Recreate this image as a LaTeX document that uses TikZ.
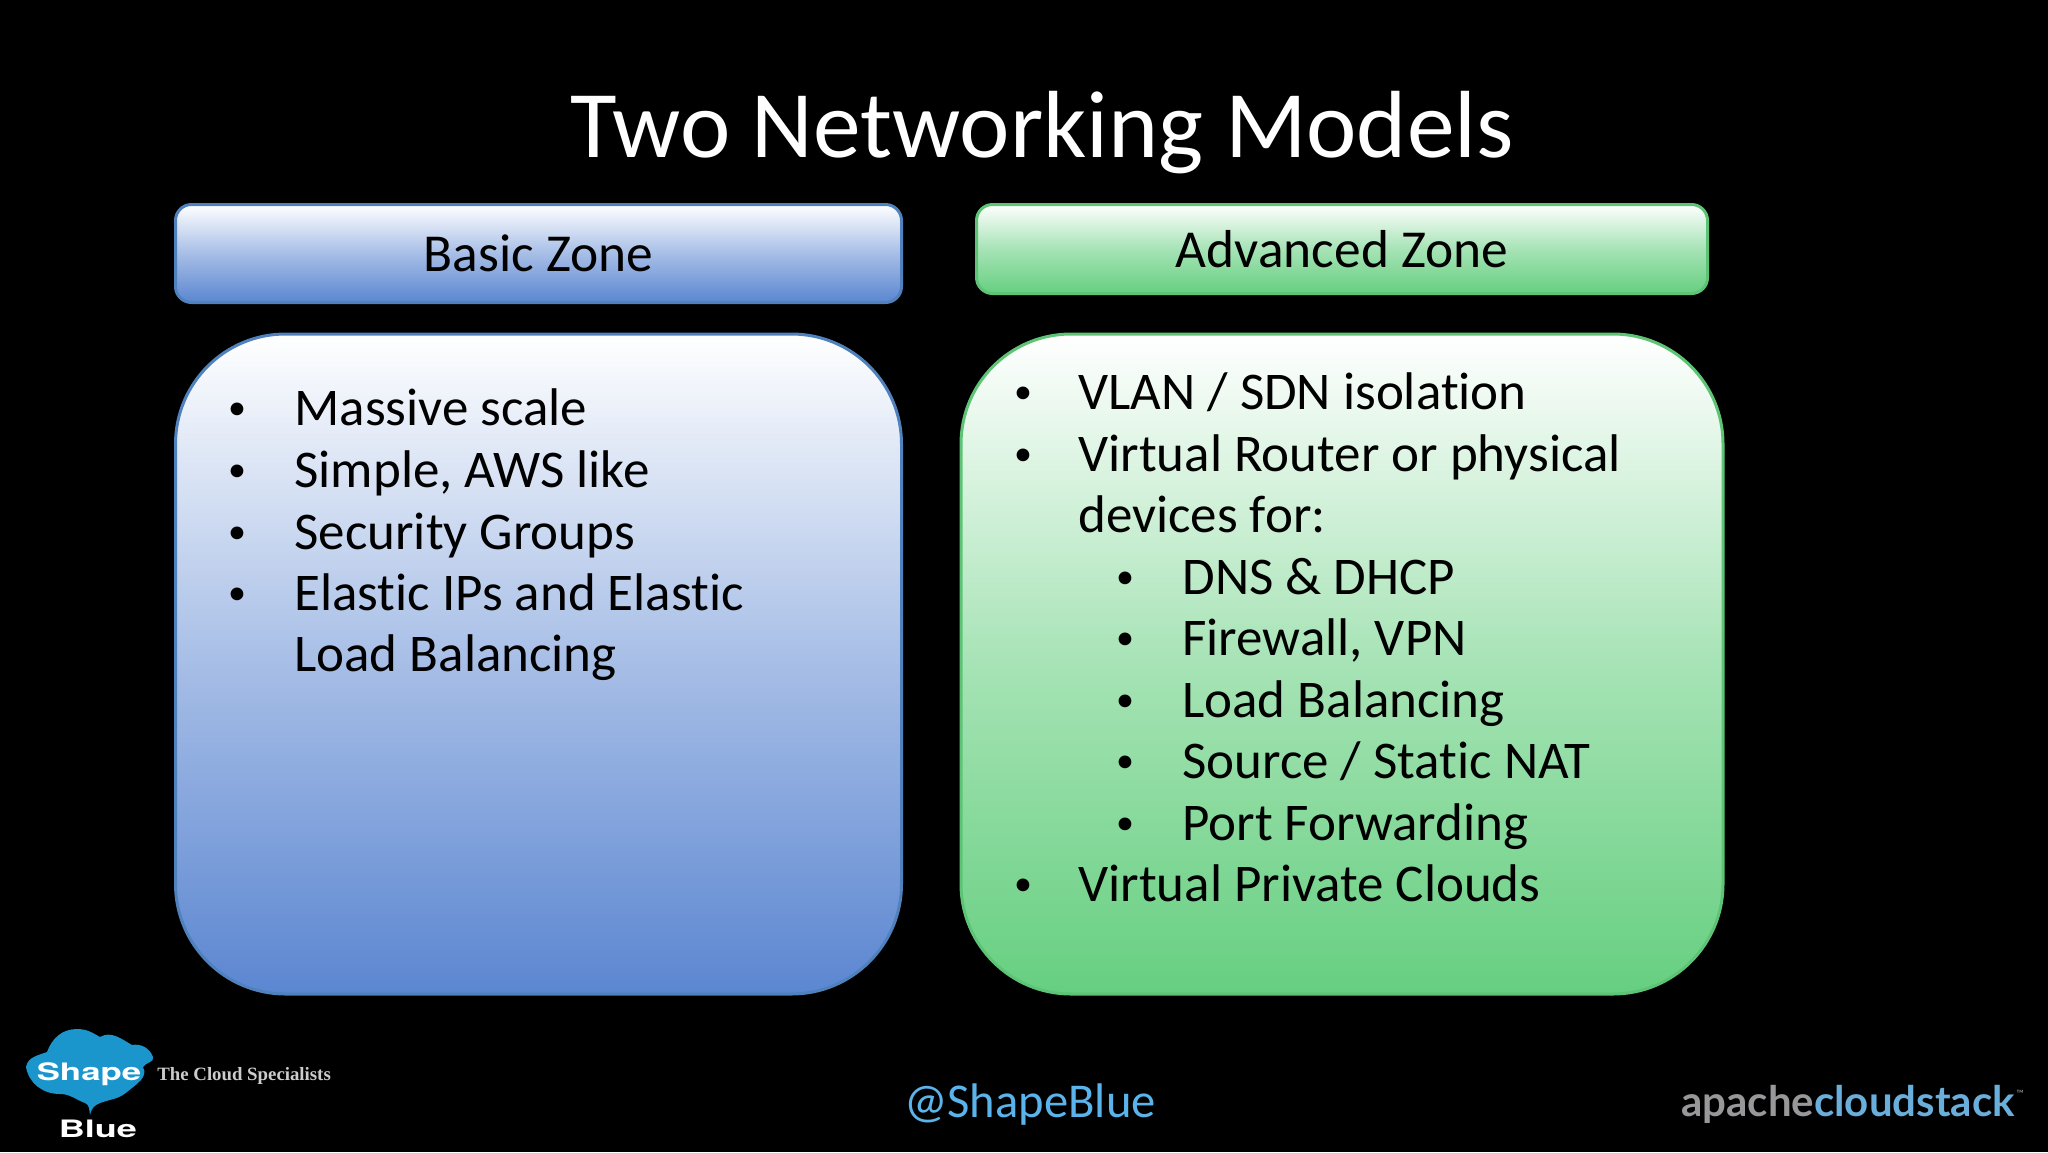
\documentclass[tikz,border=0pt]{standalone}
\usepackage{fontspec}
\setmainfont{Carlito}[Ligatures=NoCommon]
\newfontfamily\logosans{TeX Gyre Heros}
\newfontfamily\logoserif{Liberation Serif}
\newfontfamily\stackfont{Lato}
\definecolor{basicblue}{HTML}{5B86D1}
\definecolor{basicline}{HTML}{4F81BD}
\definecolor{advgreen}{HTML}{66CF80}
\definecolor{advline}{HTML}{5CC474}
\definecolor{cloudblue}{HTML}{1A96CC}
\definecolor{handleblue}{HTML}{5AB3EA}
\definecolor{stackgrey}{HTML}{98989A}
\definecolor{stackblue}{HTML}{6AAEDB}
\tikzset{
    basiczone/.style={draw=basicline,line width=1.5pt,top color=white,bottom color=basicblue,middle color=basicblue!54!white,inner sep=0pt,outer sep=0pt},
    advzone/.style={draw=advline,line width=1.5pt,top color=white,bottom color=advgreen,middle color=advgreen!58!white,inner sep=0pt,outer sep=0pt},
    zonehead/.style={rounded corners=8pt,text height=18pt,text depth=0pt,font=\fontsize{26.7}{30}\selectfont},
    zonebody/.style={rounded corners=55pt},
    listtext/.style={anchor=base west,inner sep=0pt,font=\fontsize{26.5}{30}\selectfont},
    listdot/.style={anchor=base,inner sep=0pt,yshift=2.6pt,font=\fontsize{18}{20}\selectfont}
}
\begin{document}
\begin{tikzpicture}[x=0.5pt,y=-0.5pt]
    \useasboundingbox (0,0) rectangle (2048,1152);
    \fill[black] (0,0) rectangle (2048,1152);
    \node[white,inner sep=0pt,anchor=base,font=\fontsize{47.7}{56}\selectfont] (title) at (1042,157) {Two Networking Models};
    % zone boxes
    \node[basiczone,zonehead,minimum width=363pt,minimum height=49pt] (basichead) at (538.5,253.5) {Basic Zone};
    \node[advzone,zonehead,minimum width=365.5pt,minimum height=44.5pt] (advhead) at (1342,249) {Advanced Zone};
    \node[basiczone,zonebody,minimum width=363pt,minimum height=330pt] (basicbody) at (538.5,664) {};
    \node[advzone,zonebody,minimum width=381pt,minimum height=330pt] (advbody) at (1342,664) {};
    % basic list
    \foreach \n/\y/\txt in {1/425/Massive scale,2/487/{Simple, AWS like},3/549/Security Groups,4/610/Elastic IPs and Elastic}
    {
        \node[listdot] (basicdot\n) at (237,\y) {•};
        \node[listtext] (basicitem\n) at (294,\y) {\txt};
    }
    \node[listtext] (basicitem5) at (294,671) {Load Balancing};
    % advanced list
    \foreach \n/\y/\txt in {1/409/{VLAN / SDN isolation},2/471/{Virtual Router or physical},9/901/{Virtual Private Clouds}}
    {
        \node[listdot] (advdot\n) at (1023,\y) {•};
        \node[listtext] (advitem\n) at (1078,\y) {\txt};
    }
    \node[listtext] (advitem3) at (1078,532) {devices for:};
    \foreach \n/\y/\txt in {4/594/{DNS \& DHCP},5/655/{Firewall, VPN},6/717/{Load Balancing},7/778/{Source / Static NAT},8/840/{Port Forwarding}}
    {
        \node[listdot] (advdot\n) at (1125,\y) {•};
        \node[listtext] (advitem\n) at (1182,\y) {\txt};
    }
    % footer
    \node[handleblue,anchor=base,inner sep=0pt,font=\fontsize{24.3}{30}\selectfont] (handle) at (1030,1117) {@ShapeBlue};
    \fill[cloudblue] (26,1067)
        to [out=80,in=200] (47,1052)
        to [out=70,in=180] (77,1029)
        to [out=0,in=150] (100,1037)
        to [out=30,in=150] (132,1045)
        to [out=10,in=110] (153,1057)
        to [out=290,in=60] (143,1067)
        to [out=300,in=40] (127,1092)
        to [out=220,in=20] (100,1103)
        to [out=200,in=80] (90,1115)
        to [out=100,in=-20] (85,1103)
        to [out=160,in=0] (60,1094)
        to [out=180,in=280] cycle;
    \node[white,anchor=base,inner sep=0pt,xscale=1.45,font=\logosans\bfseries\fontsize{12}{14}\selectfont] (shape) at (89,1080) {Shape};
    \node[white,anchor=base,inner sep=0pt,xscale=1.5,font=\logosans\bfseries\fontsize{12}{14}\selectfont] (blue) at (98,1137) {Blue};
    \node[white!80!black,anchor=base west,inner sep=0pt,font=\logoserif\bfseries\fontsize{9.4}{11}\selectfont] (tagline) at (157,1080) {The Cloud Specialists};
    \node[anchor=base west,inner sep=0pt,font=\stackfont\bfseries\fontsize{21}{24}\selectfont] (stack) at (1681,1116) {\textcolor{stackgrey}{apache}\textcolor{stackblue}{cloudstack}};
    \node[stackgrey,anchor=base west,inner sep=0pt,font=\stackfont\fontsize{5}{6}\selectfont] (tm) at (2016,1097) {™};
\end{tikzpicture}
\end{document}
